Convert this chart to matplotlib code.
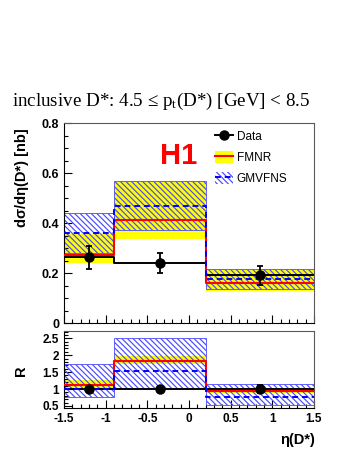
import numpy as np
import matplotlib
matplotlib.use("Agg")
import matplotlib.pyplot as plt
from matplotlib.patches import Patch
from matplotlib.lines import Line2D
from matplotlib.ticker import MultipleLocator, FormatStrFormatter

plt.rcParams['font.family'] = ['Liberation Sans', 'DejaVu Sans']
plt.rcParams['axes.unicode_minus'] = False
plt.rcParams['hatch.linewidth'] = 0.85
plt.rcParams['mathtext.fontset'] = 'custom'
plt.rcParams['mathtext.rm'] = 'Liberation Serif'

# bins in eta(D*)
edges = [-1.5, -0.9, 0.2, 1.5]
centers = [-1.2, -0.35, 0.85]

# cross section [nb]
data = [0.264, 0.243, 0.192]
data_err = [0.046, 0.040, 0.038]
fmnr = [0.275, 0.415, 0.163]
fmnr_lo = [0.243, 0.336, 0.129]
fmnr_hi = [0.358, 0.565, 0.212]
gmv = [0.360, 0.470, 0.176]
gmv_lo = [0.283, 0.373, 0.136]
gmv_hi = [0.443, 0.571, 0.217]

# ratio panel
r_data = [1.0, 1.0, 1.0]
r_data_err = [0.04, 0.04, 0.12]
r_fmnr = [1.13, 1.84, 0.95]
r_fmnr_lo = [1.04, 1.735, 0.87]
r_fmnr_hi = [1.27, 1.99, 1.03]
r_gmv = [1.0, 1.52, 0.76]
r_gmv_lo = [0.755, 1.03, 0.52]
r_gmv_hi = [1.745, 2.50, 1.16]

YEL = '#ffff00'
RED = '#ff0000'
BLU = '#0000ff'
HBLU = '#4b4bff'
HATCH = '\\' * 6


def step(vals):
    return list(vals) + [vals[-1]]


def draw_panel(ax, d, derr, f, flo, fhi, g, glo, ghi, full_line=False):
    left = edges[:-1]
    widths = np.diff(edges)
    ax.bar(left, np.array(fhi) - np.array(flo), widths, bottom=flo,
           align='edge', color=YEL, lw=0, zorder=1)
    ax.bar(left, np.array(ghi) - np.array(glo), widths, bottom=glo,
           align='edge', facecolor='none', edgecolor=HBLU, lw=0.6,
           hatch=HATCH, zorder=2)
    if full_line:
        ax.axhline(1.0, color='black', lw=1.4, zorder=3)
    else:
        ax.step(edges, step(d), where='post', color='black', lw=1.4, zorder=3)
    ax.step(edges, step(f), where='post', color=RED, lw=1.5, zorder=4)
    ax.step(edges, step(g), where='post', color=BLU, lw=1.4, ls=(0, (3, 2)),
            zorder=5)
    ax.errorbar(centers, d, yerr=derr, fmt='o', color='black', ms=6.5,
                elinewidth=1.3, capsize=2.5, capthick=1.3, zorder=6)
    ax.set_xlim(-1.5, 1.5)
    ax.xaxis.set_major_locator(MultipleLocator(0.5))
    ax.xaxis.set_minor_locator(MultipleLocator(0.1))
    ax.tick_params(which='both', direction='in', top=False, right=False)
    ax.tick_params(which='major', length=6, width=0.8)
    ax.tick_params(which='minor', length=3, width=0.8)
    for sp in ax.spines.values():
        sp.set_color('0.35')
        sp.set_linewidth(0.8)
    ax.spines['left'].set_color('black')
    ax.spines['bottom'].set_color('black')


fig = plt.figure(figsize=(3.49, 4.51), dpi=100)
ax = fig.add_axes([0.1834, 0.2832, 0.7163, 0.4435])
axr = fig.add_axes([0.1834, 0.0947, 0.7163, 0.1721])

draw_panel(ax, data, data_err, fmnr, fmnr_lo, fmnr_hi, gmv, gmv_lo, gmv_hi)
ax.set_ylim(0, 0.8)
ax.yaxis.set_major_locator(MultipleLocator(0.2))
ax.yaxis.set_minor_locator(MultipleLocator(0.05))
ax.yaxis.set_major_formatter(FormatStrFormatter('%g'))
ax.tick_params(labelbottom=False)
for lab in ax.get_yticklabels():
    lab.set_fontsize(9)
    lab.set_fontweight('bold')

draw_panel(axr, r_data, r_data_err, r_fmnr, r_fmnr_lo, r_fmnr_hi,
           r_gmv, r_gmv_lo, r_gmv_hi, full_line=True)
axr.set_ylim(0.43, 2.725)
axr.yaxis.set_major_locator(MultipleLocator(0.5))
axr.yaxis.set_minor_locator(MultipleLocator(0.1))
axr.yaxis.set_major_formatter(FormatStrFormatter('%g'))
axr.xaxis.set_major_formatter(FormatStrFormatter('%g'))
for lab in axr.get_yticklabels() + axr.get_xticklabels():
    lab.set_fontsize(8.5)
    lab.set_fontweight('bold')

# labels
fig.text(22 / 349, 1 - 128 / 451, 'd\u03c3/d\u03b7(D*) [nb]', rotation=90,
         ha='center', va='top', fontsize=10.5, fontweight='bold')
fig.text(20.5 / 349, 1 - 370.5 / 451, 'R', rotation=90,
         ha='center', va='center', fontsize=10.5, fontweight='bold')
fig.text(315 / 349, 1 - 440 / 451, '\u03b7(D*)', ha='right', va='center',
         fontsize=10.5, fontweight='bold')
fig.text(12 / 349, 1 - 101 / 451,
         'inclusive D*: 4.5 \u2264 $\\mathrm{p_t}$(D*) [GeV] < 8.5',
         ha='left', va='center', fontsize=13.7, family='Liberation Serif')
ax.text(0.46, 0.834, 'H1', transform=ax.transAxes, ha='center', va='center',
        fontsize=21, fontweight='bold', color=RED)

# legend
h_data = Line2D([], [], color='black', marker='o', ms=6.5, lw=1.4)
h_fmnr = (Patch(facecolor=YEL, lw=0), Line2D([], [], color=RED, lw=1.5))
h_gmv = (Patch(facecolor='none', edgecolor=HBLU, lw=0, hatch=HATCH),
         Line2D([], [], color=BLU, lw=1.4, ls=(0, (3, 2))))
ax.legend([h_data, h_fmnr, h_gmv], ['Data', 'FMNR', 'GMVFNS'],
          loc='upper left', bbox_to_anchor=(0.604, 0.965), frameon=False,
          fontsize=8.5, handlelength=1.5, handleheight=1.2,
          handletextpad=0.35, labelspacing=0.65, borderpad=0,
          borderaxespad=0)

plt.savefig('out.png', dpi=100)
